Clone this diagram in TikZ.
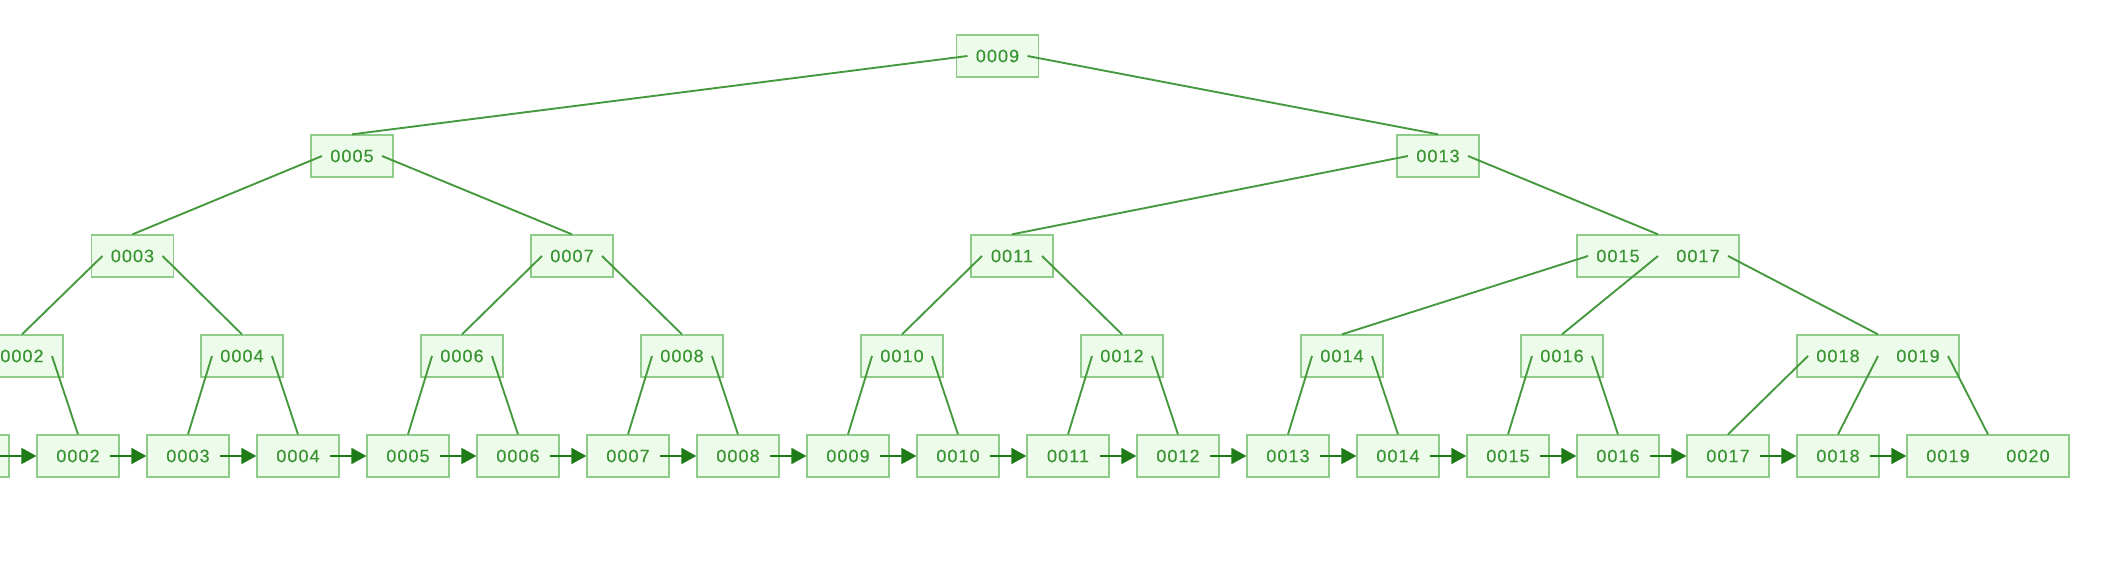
\documentclass[tikz,border=0pt]{standalone}
\usepackage{fontspec}
\newfontfamily\keyfont[LetterSpace=6,FakeBold=0.5]{Liberation Sans}
\usetikzlibrary{arrows.meta,calc}
\definecolor{boxfill}{HTML}{EDFCEA}
\definecolor{boxdraw}{HTML}{8FCB89}
\definecolor{edgecol}{HTML}{46993F}
\definecolor{keycol}{HTML}{3A9434}
\definecolor{arrowcol}{HTML}{1F7A18}
\begin{document}
\begin{tikzpicture}[x=1pt,y=-1pt,
  key/.style={draw=boxdraw, fill=boxfill, line width=1.3pt, minimum width=82pt,
    minimum height=42pt, inner sep=0pt, font=\keyfont\fontsize{18}{18}\selectfont, text=keycol},
  wide/.style={key, minimum width=162pt},
  edge/.style={draw=edgecol, line width=1.9pt},
  link/.style={draw=arrowcol, line width=1.9pt, -{Triangle[length=15pt,width=16pt]}}]
\useasboundingbox (0,0) rectangle (2110,572);

% leaves
\foreach \i in {1,...,18}{
  \pgfmathsetmacro\xx{78+(\i-2)*110}
  \node[key] (l\i) at (\xx,456) {\ifnum\i<10 000\i\else 00\i\fi};
}
\node[wide] (l19) at (1988,456) {\makebox[0pt]{0019}\hspace{80pt}\makebox[0pt]{0020}};

% level 3
\node[key] (m2) at (22,356) {0002};
\node[key] (m4) at (242,356) {0004};
\node[key] (m6) at (462,356) {0006};
\node[key] (m8) at (682,356) {0008};
\node[key] (m10) at (902,356) {0010};
\node[key] (m12) at (1122,356) {0012};
\node[key] (m14) at (1342,356) {0014};
\node[key] (m16) at (1562,356) {0016};
\node[wide] (m18) at (1878,356) {\makebox[0pt]{0018}\hspace{80pt}\makebox[0pt]{0019}};

% level 2
\node[key] (n3) at (132.5,256) {0003};
\node[key] (n7) at (572,256) {0007};
\node[key] (n11) at (1012,256) {0011};
\node[wide] (n15) at (1658,256) {\makebox[0pt]{0015}\hspace{80pt}\makebox[0pt]{0017}};

% level 1
\node[key] (p5) at (352,156) {0005};
\node[key] (p13) at (1438,156) {0013};

% root
\node[key] (r) at (997.5,56) {0009};

% pointer coordinates
\foreach \n in {r,p5,p13,n3,n7,n11,m2,m4,m6,m8,m10,m12,m14,m16}{
  \coordinate (\n-a) at ($(\n.center)+(-30,0)$);
  \coordinate (\n-b) at ($(\n.center)+(30,0)$);
}
\foreach \n in {n15,m18}{
  \coordinate (\n-a) at ($(\n.center)+(-70,0)$);
  \coordinate (\n-b) at (\n.center);
  \coordinate (\n-c) at ($(\n.center)+(70,0)$);
}

% tree edges
\draw[edge] (r-a) -- (p5.north);
\draw[edge] (r-b) -- (p13.north);
\draw[edge] (p5-a) -- (n3.north);
\draw[edge] (p5-b) -- (n7.north);
\draw[edge] (p13-a) -- (n11.north);
\draw[edge] (p13-b) -- (n15.north);
\draw[edge] (n3-a) -- (m2.north);
\draw[edge] (n3-b) -- (m4.north);
\draw[edge] (n7-a) -- (m6.north);
\draw[edge] (n7-b) -- (m8.north);
\draw[edge] (n11-a) -- (m10.north);
\draw[edge] (n11-b) -- (m12.north);
\draw[edge] (n15-a) -- (m14.north);
\draw[edge] (n15-b) -- (m16.north);
\draw[edge] (n15-c) -- (m18.north);
\foreach \k [evaluate=\k as \lo using int(\k-1)] in {2,4,...,16}{
  \draw[edge] (m\k-a) -- (l\lo.north);
  \draw[edge] (m\k-b) -- (l\k.north);
}
\draw[edge] (m18-a) -- (l17.north);
\draw[edge] (m18-b) -- (l18.north);
\draw[edge] (m18-c) -- (l19.north);

% leaf links
\foreach \i [evaluate=\i as \j using int(\i+1)] in {1,...,18}{
  \coordinate (l\i-out) at ($(l\i.center)+(32,0)$);
  \draw[link] (l\i-out) -- (l\j.west);
}
\end{tikzpicture}
\end{document}
